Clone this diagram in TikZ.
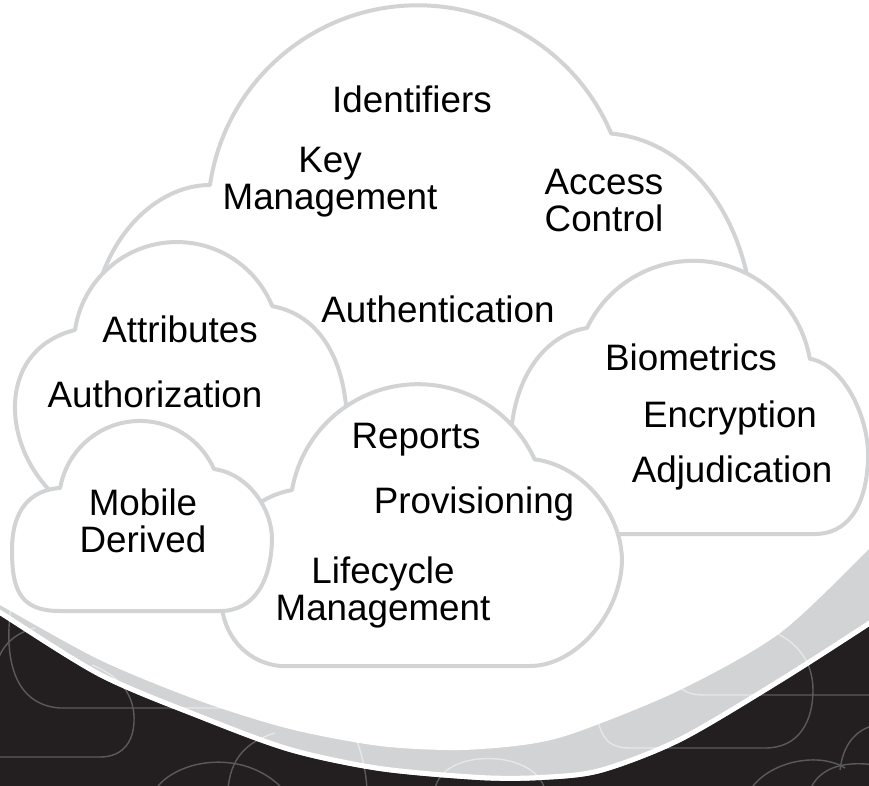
\documentclass[tikz,border=0pt]{standalone}
\usepackage{fontspec}
\setmainfont{Liberation Sans}
\definecolor{cloudgray}{HTML}{D1D3D4}
\definecolor{darkbg}{HTML}{231F20}
\definecolor{patdark}{HTML}{5A5A5C}
\definecolor{patlight}{HTML}{E6E7E8}
\newcommand\bgpat{%
 \draw[patline] (12,600) .. controls (2,660) and (15,705) .. (60,708) -- (320,708);
 \draw[patline] (-5,670) .. controls (0,645) and (15,633) .. (35,628);
 \draw[patline] (92,665) .. controls (125,678) and (135,700) .. (134,722) .. controls (133,745) and (120,757) .. (100,757) -- (-10,757);
 \draw[patline] (155,790) .. controls (175,760) and (240,748) .. (280,786);
 \draw[patline] (228,790) .. controls (230,760) and (245,742) .. (275,733);
 \draw[patline] (355,735) .. controls (362,755) and (366,770) .. (367,790);
 \draw[patline] (435,790) .. controls (440,748) and (535,748) .. (545,790);
 \draw[patline] (594,690) .. controls (597,735) and (605,748) .. (630,748) -- (765,748) .. controls (800,748) and (813,720) .. (813,690) .. controls (813,660) and (795,635) .. (755,626);
 \draw[patline] (668,650) .. controls (672,685) and (680,695) .. (705,695) -- (880,695);
 \draw[patline] (750,790) .. controls (770,760) and (820,752) .. (845,768);
 \draw[patline] (810,790) .. controls (818,770) and (840,760) .. (875,765);
 \draw[patline] (840,770) .. controls (843,745) and (855,730) .. (875,725);
}
\tikzset{
 cloud/.style={fill=white, draw=cloudgray, line width=4pt, line join=round},
 lbl/.style={font=\fontsize{36.8}{37}\selectfont, inner sep=0pt, align=center, text=black},
}
\begin{document}
\begin{tikzpicture}[x=1pt,y=-1pt]
\useasboundingbox (0,0) rectangle (869,786);
\clip (0,0) rectangle (869,786);
% background
\fill[darkbg] (-10,-10) rectangle (880,800);
\begin{scope}[patline/.style={draw=patdark,line width=1.4pt}]
 \bgpat
\end{scope}
\fill[cloudgray] (-10,-10) -- plot[smooth] coordinates {(-10,609) (0,615) (100,677) (200,719) (290,752) (380,771) (480,780) (540,780) (600,773) (680,742) (780,683) (869,626) (880,618)} -- (880,-10) -- cycle;
\begin{scope}[patline/.style={draw=patlight,line width=1.4pt}]
 \clip (-10,-10) -- plot[smooth] coordinates {(-10,609) (0,615) (100,677) (200,719) (290,752) (380,771) (480,780) (540,780) (600,773) (680,742) (780,683) (869,626) (880,618)} -- (880,-10) -- cycle;
 \bgpat
\end{scope}
\draw[white,line width=5pt,yshift=2.5pt] plot[smooth] coordinates {(-10,609) (0,615) (100,677) (200,719) (290,752) (380,771) (480,780) (540,780) (600,773) (680,742) (780,683) (869,626) (880,618)};
\fill[white] (-10,-10) -- plot[smooth] coordinates {(-10,600) (0,605) (100,660) (200,701) (290,729) (380,746) (460,750) (530,744) (580,731) (680,690) (780,633) (869,549) (880,538)} -- (880,-10) -- cycle;
% clouds, back to front
\path[cloud] (95,300) .. controls (110,230) and (160,185) .. (210,185) arc[start angle=188.3,end angle=337.1,radius=210] .. controls (680,140) and (735,200) .. (750,290) -- (760,440) -- (95,440) -- cycle;
\path[cloud] (600,534) -- (512,470) .. controls (503,390) and (540,335) .. (587,328) arc[start angle=205.5,end angle=350.2,radius=118] .. controls (845,365) and (870,420) .. (868,460) .. controls (866,510) and (845,534) .. (815,534) -- cycle;
\path[cloud] (60,500) .. controls (0,450) and (-5,350) .. (75,330) arc[start angle=188.4,end angle=337.8,radius=103] .. controls (320,315) and (345,360) .. (347,420) -- (330,520) -- (120,520) -- cycle;
\path[cloud] (280,666) .. controls (250,663) and (226,640) .. (222,608) .. controls (216,545) and (240,500) .. (292,490) arc[start angle=190,end angle=335.6,radius=128] .. controls (580,465) and (621,510) .. (622,560) .. controls (621,615) and (575,666) .. (530,666) -- cycle;
\path[cloud] (60,611) .. controls (20,611) and (12,590) .. (12,550) .. controls (12,510) and (30,490) .. (60.2,487.9) arc[start angle=190,end angle=336,radius=81] .. controls (245,473) and (272,505) .. (272,540) .. controls (271,580) and (255,611) .. (220,611) -- cycle;
% labels
\node[lbl,anchor=base] (ident) at (412,113) {Identifiers};
\node[lbl] (keymgmt) at (330,182.4) {Key\\Management};
\node[lbl] (access) at (604,200.4) {Access\\Control};
\node[lbl,anchor=base] (authn) at (438,322) {Authentication};
\node[lbl,anchor=base] (attr) at (180,342) {Attributes};
\node[lbl,anchor=base] (authz) at (155,407) {Authorization};
\node[lbl,anchor=base] (bio) at (691,370) {Biometrics};
\node[lbl,anchor=base] (enc) at (730,427) {Encryption};
\node[lbl,anchor=base] (adj) at (732,482) {Adjudication};
\node[lbl,anchor=base] (rep) at (416,448) {Reports};
\node[lbl,anchor=base] (prov) at (474,513) {Provisioning};
\node[lbl] (life) at (383,592.4) {Lifecycle\\Management};
\node[lbl] (mobile) at (143,520.6) {Mobile\\Derived};
\end{tikzpicture}
\end{document}
